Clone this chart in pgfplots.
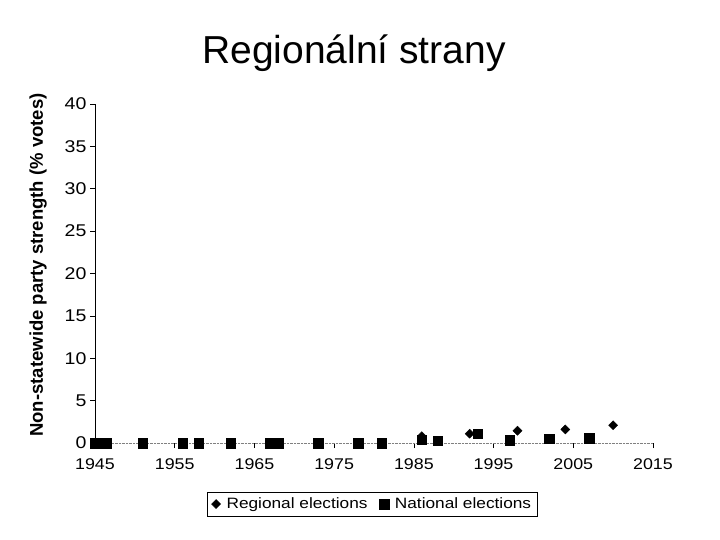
\documentclass[border=0pt]{standalone}
\usepackage{pgfplots}
\pgfplotsset{compat=1.18}
\usepackage{fontspec}
\setmainfont{Liberation Sans}
\newfontfamily\wide[FakeStretch=1.15]{Liberation Sans}
\begin{document}
\begin{tikzpicture}[x=1pt,y=1pt]
  \path[use as bounding box] (0,0) rectangle (720,-540);
  \node[anchor=base, font=\fontsize{39}{41}\selectfont] at (354,-64) {Regionální strany};
  \begin{axis}[
      at={(95pt,-443pt)}, anchor=south west,
      scale only axis, width=558pt, height=339pt,
      xmin=1945, xmax=2015, ymin=0, ymax=40,
      xtick={1945,1955,...,2015},
      ytick={0,5,...,40},
      axis lines*=left,
      x axis line style={gray, densely dotted},
      y axis line style={black, line width=0.8pt},
      tick align=outside,
      major tick length=5pt,
      tick style={black, line width=0.6pt},
      y tick label style={font=\wide\fontsize{17}{18}\selectfont},
      x tick label style={font=\wide\fontsize{15.5}{17}\selectfont, yshift=-7pt},
      /pgf/number format/assume math mode=true,
      /pgf/number format/1000 sep={},
      ylabel={\bfseries Non-statewide party strength (\% votes)},
      ylabel style={at={(axis description cs:-0.102,0.525)}, anchor=center,
        font=\fontsize{18.5}{20}\selectfont},
      clip=false,
      legend columns=2,
      legend style={at={(0.497,-0.18)}, anchor=center, draw=black,
        font=\wide\fontsize{15}{17}\selectfont, inner sep=4pt,
        /tikz/every odd column/.append style={column sep=4pt},
        /tikz/every even column/.append style={column sep=10pt}},
      legend cell align=left,
    ]
    \addplot[only marks, mark=square*, mark size=3.2pt, mark options={rotate=45, fill=black}, black]
      coordinates {(1986,0.8) (1992,1.1) (1998,1.45) (2004,1.6) (2010,2.1)};
    \addplot[only marks, mark=square*, mark size=4.7pt, black]
      coordinates {(1945,0) (1946,0) (1946.4,0) (1951,0) (1956,0) (1958,0)
        (1962,0) (1967,0) (1968,0) (1973,0) (1978,0) (1981,0)
        (1986,0.4) (1988,0.3) (1993,1.1) (1997,0.35) (2002,0.5) (2007,0.55)};
    \legend{Regional elections, National elections}
  \end{axis}
\end{tikzpicture}
\end{document}
